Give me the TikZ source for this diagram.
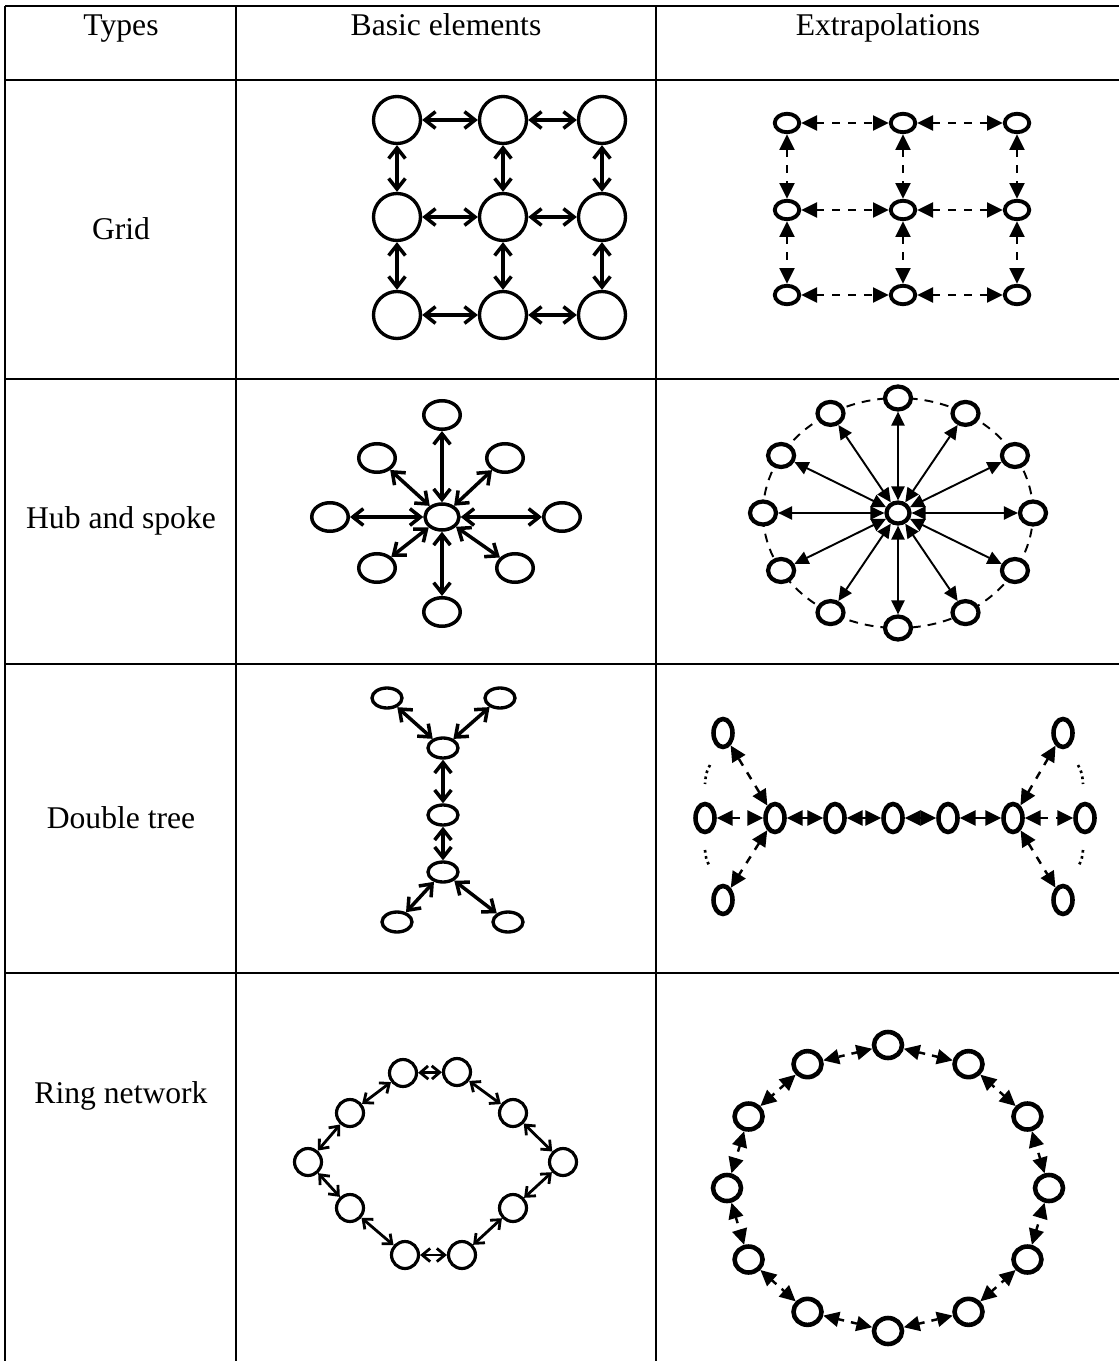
\documentclass[tikz,border=0pt]{standalone}
\usepackage{fontspec}
\setmainfont{Liberation Serif}
\usetikzlibrary{arrows.meta, shapes.geometric}

\tikzset{
  rule/.style={line width=0.8pt},
  lbl/.style={font=\fontsize{18}{22}\selectfont, inner sep=0pt},
  gridcirc/.style={circle, draw, fill=white, line width=1.9pt, minimum size=0.94cm, inner sep=0pt},
  ringcirc/.style={circle, draw, fill=white, line width=1.8pt, minimum size=0.54cm, inner sep=0pt},
  oval/.style={ellipse, draw, fill=white, inner sep=0pt},
  barbs/.style={{Straight Barb[length=6pt,width=9.5pt]}-{Straight Barb[length=6pt,width=9.5pt]}, line width=2pt},
  smallbarbs/.style={{Straight Barb[length=4.5pt,width=7.5pt]}-{Straight Barb[length=4.5pt,width=7.5pt]}, line width=1.6pt},
  tips/.style={{Triangle[length=9pt,width=8.5pt]}-{Triangle[length=9pt,width=8.5pt]}, line width=1.4pt},
  dashes/.style={dash pattern=on 4.5pt off 4.5pt},
}

\begin{document}
\begin{tikzpicture}[x=0.02cm, y=-0.02cm]
  \useasboundingbox (0,0) rectangle (1119,1361);

  % table rules
  \foreach \y in {6,80,379,664,973}
    \draw[rule] (5,\y) -- (1119,\y);
  \draw[line width=1.3pt] (5,6) -- (5,1361);
  \draw[rule] (236,6) -- (236,1361);
  \draw[rule] (656,6) -- (656,1361);

  % header and row labels
  \node[lbl, anchor=base] (hdtypes) at (121,36) {Types};
  \node[lbl, anchor=base] (hdbasic) at (446,36) {Basic elements};
  \node[lbl, anchor=base] (hdextra) at (888,36) {Extrapolations};
  \node[lbl] (lbgrid) at (121,229) {Grid};
  \node[lbl] (lbhub) at (121,521) {Hub and spoke};
  \node[lbl] (lbtree) at (121,818) {Double tree};
  \node[lbl] (lbring) at (121,1096) {Ring network};

  % grid, basic
  \foreach \c/\x in {1/397,2/503,3/602}
    \foreach \r/\y in {1/120,2/217,3/315}
      \node[gridcirc] (g\r\c) at (\x,\y) {};
  \foreach \r in {1,2,3} {
    \draw[barbs] (g\r1) -- (g\r2);
    \draw[barbs] (g\r2) -- (g\r3);
  }
  \foreach \c in {1,2,3} {
    \draw[barbs] (g1\c) -- (g2\c);
    \draw[barbs] (g2\c) -- (g3\c);
  }

  % grid, extrapolation
  \foreach \c/\x in {1/787,2/903,3/1017}
    \foreach \r/\y in {1/123,2/210,3/295}
      \node[oval, line width=2.2pt, minimum width=0.49cm, minimum height=0.37cm] (x\r\c) at (\x,\y) {};
  \foreach \r in {1,2,3} {
    \draw[tips, dashes] (x\r1) -- (x\r2);
    \draw[tips, dashes] (x\r2) -- (x\r3);
  }
  \foreach \c in {1,2,3} {
    \draw[tips, dashes] (x1\c) -- (x2\c);
    \draw[tips, dashes] (x2\c) -- (x3\c);
  }

  % hub and spoke, basic
  \node[oval, line width=2pt, minimum width=0.68cm, minimum height=0.52cm] (hb) at (442,517) {};
  \foreach \n/\x/\y in {n/442/415, s/442/612, w/330/517, e/562/517,
                        nw/377/458, ne/505/458, sw/377/568, se/515/568} {
    \node[oval, line width=2pt, minimum width=0.73cm, minimum height=0.57cm] (hb\n) at (\x,\y) {};
    \draw[barbs] (hb) -- (hb\n);
  }

  % hub and spoke, extrapolation
  \draw[line width=1.1pt, dash pattern=on 5pt off 4pt] (898,513) ellipse [x radius=135, y radius=115];
  \foreach \a [count=\i] in {0,30,...,330}
    \node[oval, line width=2.4pt, minimum width=0.52cm, minimum height=0.46cm] (hx\i)
      at ({898+135*cos(\a)},{513-115*sin(\a)}) {};
  \node[oval, line width=2.4pt, minimum width=0.46cm, minimum height=0.42cm] (hx) at (898,513) {};
  \foreach \i in {1,...,12}
    \draw[{Triangle[length=8pt,width=7.5pt]}-{Triangle[length=8pt,width=7.5pt]}, line width=1.1pt] (hx) -- (hx\i);

  % double tree, basic
  \foreach \n/\x/\y in {t1/387/698, t2/500/698, c1/443/748, c2/443/815,
                        c3/443/872, b1/397/922, b2/508/922}
    \node[oval, line width=1.9pt, minimum width=0.6cm, minimum height=0.4cm] (d\n) at (\x,\y) {};
  \draw[barbs] (dt1) -- (dc1);
  \draw[barbs] (dt2) -- (dc1);
  \draw[barbs] (dc1) -- (dc2);
  \draw[barbs] (dc2) -- (dc3);
  \draw[barbs] (dc3) -- (db1);
  \draw[barbs] (dc3) -- (db2);

  % double tree, extrapolation
  \foreach \n/\x/\y in {m1/705/818, m2/775/818, m3/835/818, m4/893/818, m5/948/818,
                        m6/1013/818, m7/1085/818, tl/723/733, bl/723/900, tr/1063/733, br/1063/900}
    \node[oval, line width=2.6pt, minimum width=0.38cm, minimum height=0.56cm] (e\n) at (\x,\y) {};
  \draw[tips, dashes] (em1) -- (em2);
  \draw[tips] (em2) -- (em3);
  \draw[tips] (em3) -- (em4);
  \draw[tips] (em4) -- (em5);
  \draw[tips] (em5) -- (em6);
  \draw[tips, dashes] (em6) -- (em7);
  \draw[tips, dashes] (em2) -- (etl);
  \draw[tips, dashes] (em2) -- (ebl);
  \draw[tips, dashes] (em6) -- (etr);
  \draw[tips, dashes] (em6) -- (ebr);
  \draw[dotted, line width=1.5pt] (710,765) .. controls (706,773) .. (705,784);
  \draw[dotted, line width=1.5pt] (705,850) .. controls (706,859) .. (710,867);
  \draw[dotted, line width=1.5pt] (1078,765) .. controls (1082,773) .. (1083,784);
  \draw[dotted, line width=1.5pt] (1083,850) .. controls (1082,859) .. (1078,867);

  % ring network, basic
  \foreach \x/\y [count=\i] in {403/1073, 457/1072, 513/1113, 563/1162, 513/1208,
                                462/1255, 405/1255, 350/1208, 308/1162, 350/1113}
    \node[ringcirc] (r\i) at (\x,\y) {};
  \foreach \i in {1,...,10} {
    \pgfmathtruncatemacro{\j}{mod(\i,10)+1}
    \draw[smallbarbs] (r\i) -- (r\j);
  }

  % ring network, extrapolation
  \foreach \a [count=\i] in {0,30,...,330}
    \node[oval, line width=2.6pt, minimum width=0.56cm, minimum height=0.52cm] (rx\i)
      at ({888+161*cos(\a)},{1188-143*sin(\a)}) {};
  \foreach \i in {1,...,12} {
    \pgfmathtruncatemacro{\j}{mod(\i,12)+1}
    \draw[{Triangle[length=9pt,width=8.5pt]}-{Triangle[length=9pt,width=8.5pt]}, line width=1.4pt,
          dash pattern=on 3.5pt off 4pt] (rx\i) -- (rx\j);
  }
\end{tikzpicture}
\end{document}
